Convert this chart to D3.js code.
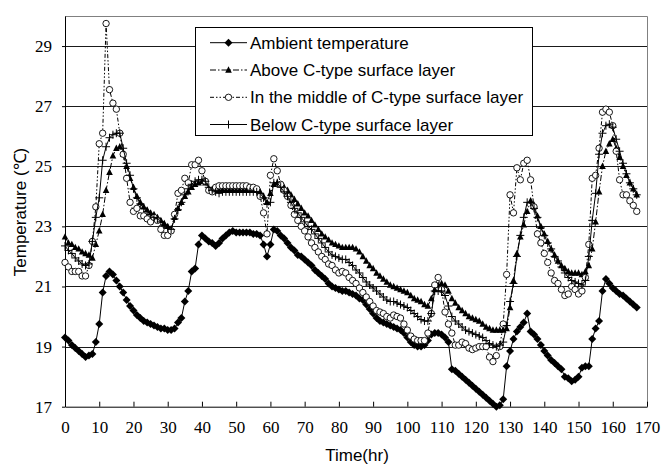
<!DOCTYPE html>
<html>
<head>
<meta charset="utf-8">
<script src="https://cdn.jsdelivr.net/npm/d3@7"></script>
<style>
  html, body { margin: 0; padding: 0; background: #fff; }
  svg { display: block; }
</style>
</head>
<body>
<svg id="chart" width="662" height="469"></svg>
<script>
// ---------------- DATA ----------------
const seriesNames = [
  "Ambient temperature",
  "Above C-type surface layer",
  "In the middle of C-type surface layer",
  "Below C-type surface layer"
];
const xTicks = [0,10,20,30,40,50,60,70,80,90,100,110,120,130,140,150,160,170];
const yTicks = [17,19,21,23,25,27,29];
const hours = d3.range(0, 168);

const ambient = [
19.3,19.2,19.05,18.95,18.85,18.75,18.65,18.7,18.75,19.15,
19.75,20.8,21.35,21.5,21.4,21.2,21.0,20.8,20.55,20.35,
20.2,20.05,19.95,19.85,19.8,19.75,19.7,19.65,19.6,19.6,
19.55,19.55,19.6,19.8,19.95,20.5,20.85,21.5,21.6,22.4,
22.7,22.6,22.5,22.45,22.35,22.45,22.6,22.7,22.8,22.85,
22.8,22.8,22.8,22.8,22.8,22.75,22.75,22.7,22.4,22.0,
22.4,22.9,22.85,22.7,22.6,22.45,22.3,22.2,22.05,22.0,
21.9,21.8,21.7,21.55,21.45,21.35,21.25,21.1,21.0,20.95,
20.9,20.85,20.85,20.8,20.75,20.7,20.6,20.55,20.4,20.25,
20.1,19.95,19.85,19.8,19.75,19.7,19.65,19.6,19.55,19.45,
19.3,19.15,19.05,19.0,19.0,19.05,19.2,19.4,19.45,19.45,
19.4,19.3,19.15,18.25,18.2,18.1,18.0,17.9,17.8,17.7,
17.6,17.5,17.4,17.3,17.2,17.1,17.0,17.05,17.25,18.35,
18.85,19.25,19.5,19.65,19.8,20.1,19.5,19.4,19.25,19.05,
18.85,18.7,18.55,18.45,18.35,18.25,18.0,17.95,17.85,17.9,
18.0,18.3,18.35,18.35,19.25,19.6,19.85,20.85,21.25,21.1,
20.95,20.85,20.75,20.7,20.6,20.5,20.4,20.3
];

const above = [
22.65,22.45,22.4,22.3,22.25,22.15,22.1,22.05,21.95,22.4,
22.85,23.4,24.2,24.8,25.35,25.6,25.65,25.4,25.0,24.6,
24.3,24.0,23.8,23.65,23.55,23.45,23.4,23.3,23.2,23.1,
23.0,22.9,23.3,23.6,23.8,24.0,24.15,24.3,24.4,24.45,
24.5,24.45,24.25,24.2,24.2,24.2,24.2,24.2,24.2,24.2,
24.2,24.2,24.2,24.2,24.2,24.2,24.2,24.15,24.0,23.8,
24.1,24.4,24.45,24.4,24.3,24.2,24.05,23.9,23.75,23.6,
23.45,23.35,23.2,23.05,22.9,22.75,22.65,22.55,22.45,22.4,
22.35,22.3,22.3,22.3,22.3,22.25,22.15,22.0,21.85,21.7,
21.6,21.45,21.35,21.25,21.15,21.05,21.0,20.95,20.9,20.85,
20.8,20.7,20.6,20.55,20.5,20.4,20.35,20.6,20.9,21.05,
21.1,21.05,20.85,20.6,20.45,20.3,20.2,20.1,20.0,19.95,
19.9,19.85,19.75,19.65,19.6,19.55,19.55,19.55,19.55,19.6,
20.3,21.2,22.1,22.65,23.05,23.5,23.85,23.7,23.35,23.0,
22.75,22.5,22.25,22.05,21.85,21.7,21.6,21.5,21.45,21.45,
21.45,21.4,21.5,21.7,22.25,23.15,24.15,25.0,25.5,25.75,
25.9,25.6,25.3,25.0,24.7,24.45,24.25,24.05
];

const middle = [
21.8,21.65,21.5,21.5,21.5,21.35,21.35,21.7,22.5,23.65,
25.75,26.1,29.75,27.55,27.1,26.9,26.1,25.4,24.6,23.8,
23.5,23.6,23.35,23.35,23.25,23.15,23.3,23.2,22.9,22.7,
22.7,22.85,23.4,24.1,24.2,24.6,24.45,25.05,25.05,25.2,
24.85,24.5,24.2,24.15,24.3,24.35,24.35,24.35,24.35,24.35,
24.35,24.35,24.35,24.35,24.3,24.3,24.25,24.0,23.45,22.75,
24.7,25.25,24.85,24.4,24.2,24.0,23.7,23.4,23.2,23.0,
22.85,22.65,22.45,22.3,22.15,22.0,21.9,21.75,21.7,21.55,
21.45,21.5,21.45,21.3,21.2,21.1,20.95,20.8,20.65,20.5,
20.35,20.2,20.15,20.1,20.0,19.95,20.05,20.0,19.95,19.75,
19.55,19.35,19.25,19.2,19.2,19.2,19.45,20.1,21.05,21.3,
20.9,20.15,19.75,19.45,19.05,19.05,19.15,19.1,18.95,18.9,
18.95,19.0,19.0,19.0,18.65,18.5,18.7,19.0,19.75,21.4,
24.05,23.45,24.95,24.55,25.1,25.2,24.55,23.65,22.75,22.45,
22.1,21.8,21.45,21.2,21.1,20.9,20.7,20.75,21.0,20.9,
20.75,20.85,21.3,22.4,24.6,24.7,25.6,26.8,26.9,26.8,
26.35,25.5,24.55,24.05,24.05,23.85,23.7,23.5
];

const below = [
22.35,22.2,22.1,21.95,21.85,21.75,21.7,21.75,22.5,23.3,
23.95,25.2,25.65,25.95,26.05,26.1,26.1,25.6,25.1,24.7,
24.25,23.95,23.75,23.6,23.5,23.4,23.3,23.25,23.15,23.05,
22.95,22.9,23.25,23.55,23.8,24.05,24.25,24.4,24.5,24.55,
24.55,24.5,24.3,24.2,24.15,24.1,24.15,24.15,24.15,24.15,
24.15,24.15,24.15,24.15,24.15,24.15,24.15,24.1,23.95,23.75,
23.8,24.45,24.45,24.3,24.15,24.0,23.8,23.6,23.45,23.3,
23.15,23.0,22.9,22.75,22.6,22.45,22.3,22.15,22.05,22.0,
21.95,21.9,21.9,21.8,21.7,21.55,21.45,21.3,21.15,21.05,
20.95,20.85,20.75,20.65,20.55,20.5,20.5,20.45,20.4,20.35,
20.3,20.2,20.1,20.0,19.9,19.85,19.85,20.1,20.85,20.85,
20.85,20.7,20.35,20.0,19.85,19.75,19.65,19.55,19.5,19.45,
19.4,19.35,19.3,19.2,19.1,19.05,19.0,19.05,19.15,19.7,
20.5,21.1,22.0,22.7,23.3,23.8,23.8,23.6,23.3,22.95,
22.7,22.45,22.25,22.0,21.85,21.65,21.45,21.3,21.2,21.15,
21.1,21.05,21.2,22.0,23.2,24.1,25.4,26.1,26.35,26.4,
26.3,25.9,25.5,25.1,24.75,24.45,24.25,24.05
];

// ---------------- CHART ----------------
const svg = d3.select("#chart");
const pLeft = 65, pRight = 647, pTop = 16, pBottom = 406.7;

const x = d3.scaleLinear().domain([0, 170]).range([pLeft, pRight]);
const y = d3.scaleLinear().domain([17, 30]).range([pBottom, pTop]);

const serif = "'Liberation Serif', 'Times New Roman', serif";
const sans = "'Liberation Sans', Arial, sans-serif";

// gridlines
svg.append("g")
  .selectAll("line")
  .data(yTicks.filter(d => d > 17))
  .join("line")
  .attr("x1", pLeft).attr("x2", pRight)
  .attr("y1", d => Math.round(y(d)) + 0.5).attr("y2", d => Math.round(y(d)) + 0.5)
  .attr("stroke", "#1a1a1a").attr("stroke-width", 1);

// top / right border
svg.append("path")
  .attr("d", `M${pLeft},${Math.round(pTop)+0.5}H${pRight+0.5}V${pBottom}`)
  .attr("fill", "none").attr("stroke", "#808080").attr("stroke-width", 1);

// x axis
const xAxis = d3.axisBottom(x).tickValues(xTicks).tickSizeInner(-5).tickSizeOuter(0).tickPadding(14);
const gx = svg.append("g").attr("transform", `translate(0,${pBottom})`).call(xAxis);
gx.select(".domain").attr("stroke", "#000");
gx.selectAll(".tick line").attr("stroke", "#000");
gx.selectAll(".tick text").attr("font-family", serif).attr("font-size", 17).attr("fill", "#000");

// y axis
const yAxis = d3.axisLeft(y).tickValues(yTicks).tickSizeInner(3).tickSizeOuter(0).tickPadding(10);
const gy = svg.append("g").attr("transform", `translate(${pLeft},0)`).call(yAxis);
gy.select(".domain").attr("stroke", "#000");
gy.selectAll(".tick line").attr("stroke", "#000");
gy.selectAll(".tick text").attr("font-family", serif).attr("font-size", 17).attr("fill", "#000");

// axis titles
svg.append("text")
  .attr("transform", `translate(26,212) rotate(-90)`)
  .attr("text-anchor", "middle")
  .attr("font-family", sans).attr("font-size", 17)
  .text("Temperature (\u2103)");
svg.append("text")
  .attr("x", 357).attr("y", 461)
  .attr("text-anchor", "middle")
  .attr("font-family", sans).attr("font-size", 17)
  .text("Time(hr)");

// markers
const diamondPath = r => `M0,${-r}L${r},0L0,${r}L${-r},0Z`;
const trianglePath = s => `M0,${-s*0.62}L${s*0.55},${s*0.45}L${-s*0.55},${s*0.45}Z`;
const plusPath = r => `M${-r},0H${r}M0,${-r}V${r}`;

const styles = [
  { data: ambient, dash: null, marker: g => g.append("path").attr("d", diamondPath(4)).attr("fill", "#000") },
  { data: above, dash: "6,2,1.5,2", marker: g => g.append("path").attr("d", trianglePath(6)).attr("fill", "#000") },
  { data: middle, dash: "4,2,1.5,2,1.5,2", marker: g => g.append("circle").attr("r", 3.2).attr("fill", "#fff").attr("stroke", "#000").attr("stroke-width", 0.9) },
  { data: below, dash: null, marker: g => g.append("path").attr("d", plusPath(4)).attr("fill", "none").attr("stroke", "#000").attr("stroke-width", 1) }
];

const line = d3.line().x((d, i) => x(hours[i])).y(d => y(d));

styles.forEach((s, k) => {
  const g = svg.append("g").attr("class", "series s" + k);
  g.append("path")
    .attr("d", line(s.data))
    .attr("fill", "none").attr("stroke", "#000").attr("stroke-width", 1)
    .attr("stroke-dasharray", s.dash);
  g.selectAll("g.m")
    .data(s.data)
    .join("g")
    .attr("class", "m")
    .attr("transform", (d, i) => `translate(${x(hours[i])},${y(d)})`)
    .each(function () { s.marker(d3.select(this)); });
});

// legend
const lg = svg.append("g");
lg.append("rect")
  .attr("x", 195.5).attr("y", 27.5).attr("width", 337).attr("height", 108)
  .attr("fill", "#fff").attr("stroke", "#000").attr("stroke-width", 1);
const rowsY = [42.7, 70, 97.3, 124.5];
styles.forEach((s, k) => {
  const row = lg.append("g").attr("transform", `translate(0,${rowsY[k]})`);
  row.append("line").attr("x1", 210).attr("x2", 247).attr("y1", 0).attr("y2", 0)
    .attr("stroke", "#000").attr("stroke-width", 1).attr("stroke-dasharray", s.dash);
  const m = row.append("g").attr("transform", "translate(228.5,0)");
  s.marker(m);
  row.append("text").attr("x", 250).attr("y", 6)
    .attr("font-family", sans).attr("font-size", 17).attr("fill", "#000")
    .text(seriesNames[k]);
});
</script>
</body>
</html>
